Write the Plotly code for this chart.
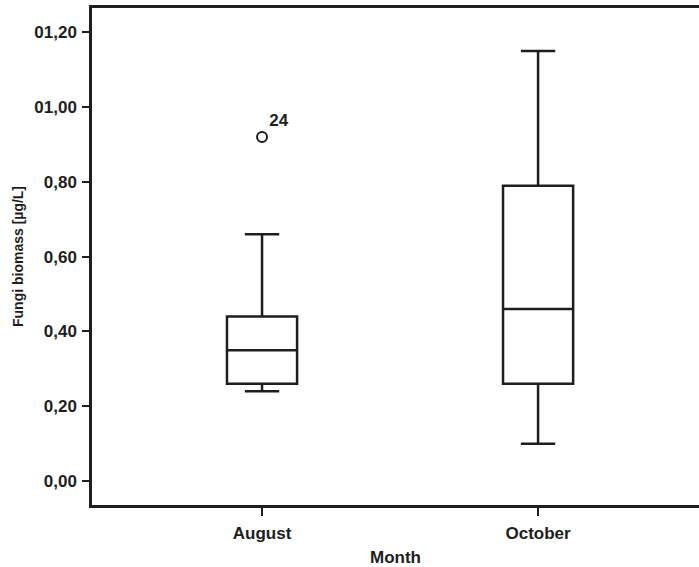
import plotly.graph_objects as go

months = ["August", "October"]
lower_whisker = [0.24, 0.10]
q1_vals = [0.26, 0.26]
medians = [0.35, 0.46]
q3_vals = [0.44, 0.79]
upper_whisker = [0.66, 1.15]

outlier_month = ["August"]
outlier_value = [0.92]
outlier_label = ["24"]

y_tick_vals = [0.0, 0.2, 0.4, 0.6, 0.8, 1.0, 1.2]
y_tick_text = ["0,00", "0,20", "0,40", "0,60", "0,80", "01,00", "01,20"]

ink = "#1e1e1e"
font_family = "Liberation Sans, Arial, sans-serif"

fig = go.Figure()
fig.add_trace(go.Box(
    x=months,
    q1=q1_vals,
    median=medians,
    q3=q3_vals,
    lowerfence=lower_whisker,
    upperfence=upper_whisker,
    width=0.254,
    whiskerwidth=0.49,
    fillcolor="white",
    line=dict(color=ink, width=2.5),
    boxpoints=False,
    showlegend=False,
    hoverinfo="skip",
))
fig.add_trace(go.Scatter(
    x=outlier_month,
    y=outlier_value,
    mode="markers+text",
    text=outlier_label,
    textposition="top right",
    textfont=dict(family=font_family, size=17, color=ink, weight="bold"),
    marker=dict(symbol="circle-open", size=10, color=ink, line=dict(width=2, color=ink)),
    showlegend=False,
    hoverinfo="skip",
))

fig.update_layout(
    width=699,
    height=567,
    margin=dict(l=92, r=0, t=8, b=62),
    paper_bgcolor="white",
    plot_bgcolor="white",
    font=dict(family=font_family, color=ink),
    xaxis=dict(
        type="category",
        range=[-0.616, 1.583],
        showline=True,
        linecolor=ink,
        linewidth=2.5,
        mirror=True,
        showgrid=False,
        zeroline=False,
        ticks="outside",
        ticklen=8,
        tickwidth=1.5,
        tickcolor=ink,
        tickfont=dict(family=font_family, size=17, color=ink, weight="bold"),
        ticklabelstandoff=3,
        title=dict(text="<b>Month</b>", font=dict(family=font_family, size=17, color=ink), standoff=10),
    ),
    yaxis=dict(
        range=[-0.064, 1.265],
        tickvals=y_tick_vals,
        ticktext=y_tick_text,
        showline=True,
        linecolor=ink,
        linewidth=2.5,
        showgrid=False,
        zeroline=False,
        ticks="outside",
        ticklen=7,
        tickwidth=1.5,
        tickcolor=ink,
        tickfont=dict(family=font_family, size=17, color=ink, weight="bold"),
        ticklabelstandoff=2,
        title=dict(text="<b>Fungi biomass [µg/L]</b>", font=dict(family=font_family, size=14, color=ink), standoff=8),
    ),
)

fig.write_html(
    "out.html",
    config={"displayModeBar": False},
    post_script="document.body.style.margin='0';document.body.style.overflow='hidden';",
)
